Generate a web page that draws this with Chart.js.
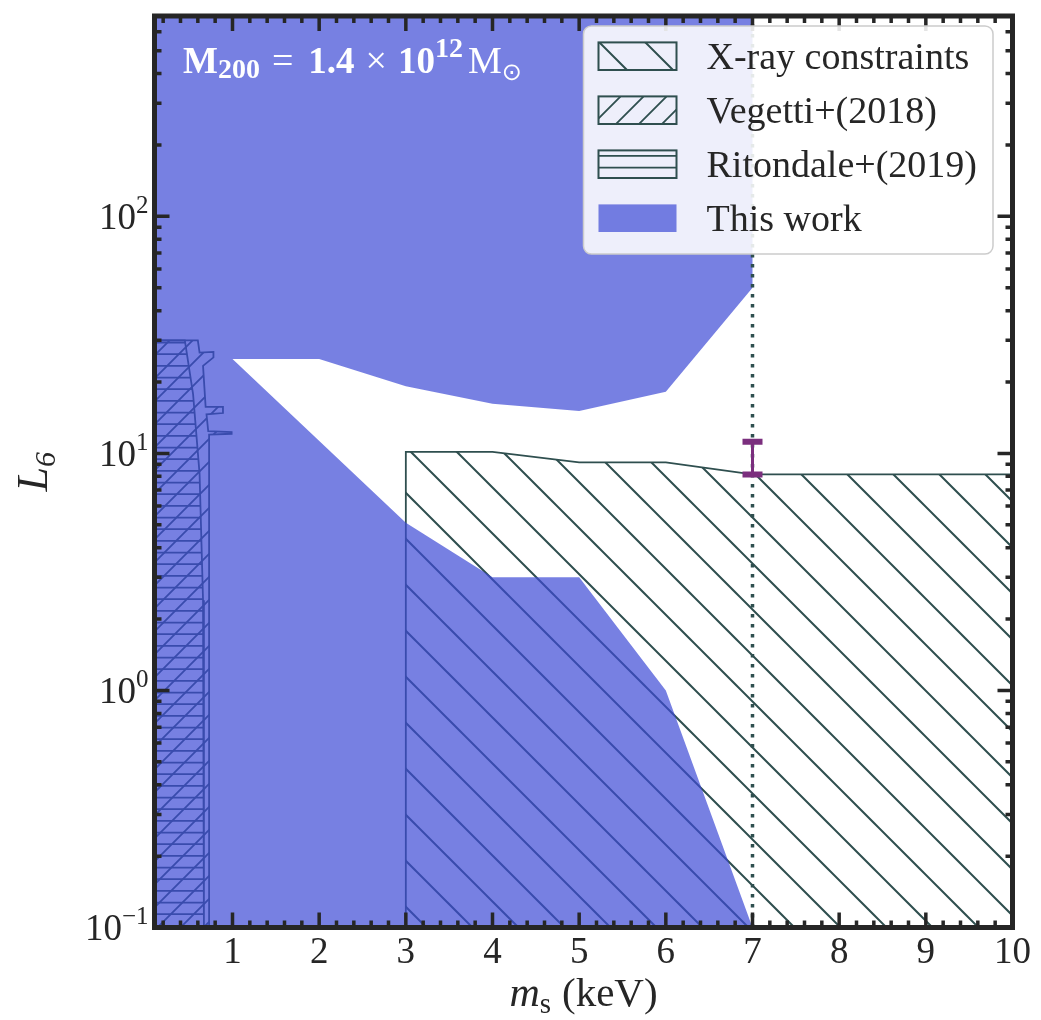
<!DOCTYPE html>
<html>
<head>
<meta charset="utf-8">
<script src="https://cdn.jsdelivr.net/npm/chart.js@4.4.1/dist/chart.umd.min.js"></script>
<style>
  html, body { margin: 0; padding: 0; background: #fff; }
  canvas { display: block; }
</style>
</head>
<body>
<canvas id="lim" width="1041" height="1020"></canvas>
<script>
const DSG = '#2f4f4f';
const INK = '#262626';
const PURPLE = '#7b2f7e';
const SERIF = '"Liberation Serif", "Times New Roman", serif';

// axis ticks
const massMajor = [1, 2, 3, 4, 5, 6, 7, 8, 9, 10];
const lumMajor = [0.1, 1, 10, 100];
const lumExp = ['\u22121', '0', '1', '2'];

// excluded by this work: outline in (m_s, L6)
const workMs = [0.1, 0.1, 7, 7, 6, 5, 4, 3, 2, 1, 3, 4, 5, 6, 7];
const workL6 = [0.1, 700, 700, 50, 18.2, 15.1, 16.2, 19.2, 25, 25, 5.1, 3, 3, 1, 0.1];

// X-ray bound
const xrayMs = [3, 3, 4, 5, 6, 7, 10, 10];
const xrayL6 = [0.1, 10.15, 10.15, 9.16, 9.16, 8.15, 8.15, 0.1];

// lensing bounds
const vegettiMs = [0.1, 0.1, 0.6, 0.62, 0.78, 0.78, 0.66, 0.69, 0.89, 0.89, 0.7, 0.72, 0.99, 0.99, 0.73, 0.73];
const vegettiL6 = [0.1, 30, 30, 26.6, 26.8, 25.4, 23.4, 15.7, 15.7, 14.8, 14.6, 12.4, 12.3, 12.1, 12.0, 0.1];
const ritondaleMs = [0.1, 0.1, 0.45, 0.545, 0.62, 0.66, 0.67];
const ritondaleL6 = [0.1, 30, 30, 17.8, 8.2, 2.4, 0.1];

// 3.5 keV line
const lineMs = [7];
const lineL6Lo = [8.15];
const lineL6Hi = [11.2];

const pts = (xs, ys) => xs.map((x, i) => ({x, y: ys[i]}));

function hatch(kind, size, phase, lw) {
  const c = document.createElement('canvas');
  c.width = size; c.height = size;
  const g = c.getContext('2d');
  g.strokeStyle = DSG;
  g.lineWidth = lw;
  g.beginPath();
  if (kind === 'horiz') {
    for (let j = 0; j < 3; j++) {
      const yy = (phase + j * size / 3) % size;
      g.moveTo(0, yy); g.lineTo(size, yy);
    }
  } else {
    for (let k = -1; k <= 1; k++) {
      const o = k * size + phase;
      if (kind === 'back') { g.moveTo(o - 3, -3); g.lineTo(o + size + 3, size + 3); }
      else { g.moveTo(o - 3, size + 3); g.lineTo(o + size + 3, -3); }
    }
  }
  g.stroke();
  return g.createPattern(c, 'repeat');
}

const xrayFill = hatch('back', 46, 5, 2);
const vegettiFill = hatch('fwd', 23, 4, 1.8);
const ritondaleFill = hatch('horiz', 35, 4.2, 1.8);
const workFill = 'rgba(61, 74, 214, 0.7)';

const region = (label, data, bg, edge, order) => ({
  label, data, order,
  backgroundColor: bg,
  borderColor: edge,
  borderWidth: edge ? 1.8 : 0,
  fill: 'shape',
  pointRadius: 0,
  tension: 0
});

function runWidth(ctx, parts) {
  let w = 0;
  for (const p of parts) { ctx.font = p.font; w += ctx.measureText(p.t).width + (p.gap || 0); }
  return w;
}
function drawRun(ctx, x, base, parts) {
  for (const p of parts) {
    ctx.font = p.font;
    ctx.fillText(p.t, x, base + (p.dy || 0));
    x += ctx.measureText(p.t).width + (p.gap || 0);
  }
}

const decor = {
  id: 'decor',
  afterDatasetsDraw(chart) {
    const {ctx, chartArea: a, scales: {x, y}} = chart;
    ctx.save();

    // inward ticks on all four sides
    ctx.strokeStyle = INK;
    ctx.lineWidth = 3.5;
    ctx.beginPath();
    for (let i = 1; i <= 50; i++) {
      const v = i * 0.2;
      if (v < x.min || v > x.max) continue;
      const len = i % 5 === 0 ? 15 : 7;
      const px = x.getPixelForValue(v);
      ctx.moveTo(px, a.bottom); ctx.lineTo(px, a.bottom - len);
      ctx.moveTo(px, a.top); ctx.lineTo(px, a.top + len);
    }
    for (let d = -1; d <= 2; d++) {
      for (let m = 1; m <= 9; m++) {
        const v = m * Math.pow(10, d);
        if (v > y.max * 1.0001) continue;
        const len = m === 1 ? 15 : 7;
        const py = y.getPixelForValue(v);
        ctx.moveTo(a.left, py); ctx.lineTo(a.left + len, py);
        ctx.moveTo(a.right, py); ctx.lineTo(a.right - len, py);
      }
    }
    ctx.stroke();

    ctx.lineWidth = 5;
    ctx.strokeRect(a.left, a.top, a.right - a.left, a.bottom - a.top);

    // tick labels
    ctx.fillStyle = INK;
    ctx.textBaseline = 'alphabetic';
    ctx.textAlign = 'center';
    ctx.font = '37px ' + SERIF;
    massMajor.forEach(v => ctx.fillText(String(v), x.getPixelForValue(v), a.bottom + 35));

    ctx.textAlign = 'left';
    lumMajor.forEach((v, i) => {
      const parts = [
        {t: '10', font: '37px ' + SERIF},
        {t: lumExp[i], font: '25px ' + SERIF, dy: -16}
      ];
      const w = runWidth(ctx, parts);
      drawRun(ctx, a.left - 6 - w, y.getPixelForValue(v) + 12.5, parts);
    });

    // axis titles
    const xt = [
      {t: 'm', font: 'italic 42px ' + SERIF},
      {t: 's', font: '29px ' + SERIF, dy: 7, gap: 11},
      {t: '(keV)', font: '41px ' + SERIF}
    ];
    drawRun(ctx, (a.left + a.right) / 2 - runWidth(ctx, xt) / 2, 1006, xt);

    const yt = [
      {t: 'L', font: 'italic 44px ' + SERIF},
      {t: '6', font: 'italic 30px ' + SERIF, dy: 8}
    ];
    ctx.save();
    ctx.translate(47, (a.top + a.bottom) / 2);
    ctx.rotate(-Math.PI / 2);
    drawRun(ctx, -runWidth(ctx, yt) / 2, 0, yt);
    ctx.restore();

    // halo mass note
    ctx.fillStyle = '#ffffff';
    const B = 'bold 37px ' + SERIF, b = 'bold 28px ' + SERIF, R = '38px ' + SERIF;
    drawRun(ctx, 183, 73, [
      {t: 'M', font: B},
      {t: '200', font: b, dy: 5, gap: 12},
      {t: '=', font: R, gap: 15},
      {t: '1.4', font: B, gap: 11},
      {t: '\u00d7', font: R, gap: 11},
      {t: '10', font: B},
      {t: '12', font: b, dy: -16, gap: 5},
      {t: 'M', font: R},
      {t: '\u2299', font: '24px "DejaVu Sans", sans-serif', dy: 7}
    ]);

    // legend
    const lx = 583.5, ly = 26, lw = 409.5, lh = 228;
    ctx.beginPath();
    ctx.roundRect(lx, ly, lw, lh, 8);
    ctx.fillStyle = 'rgba(255,255,255,0.88)';
    ctx.fill();
    ctx.strokeStyle = '#cccccc';
    ctx.lineWidth = 1.5;
    ctx.stroke();

    const items = chart.data.datasets.filter(ds => ds.label);
    items.forEach((ds, i) => {
      const cy = 56.2 + i * 54;
      ctx.fillStyle = ds.backgroundColor;
      ctx.fillRect(598.5, cy - 13.8, 78, 27.6);
      if (ds.borderWidth) {
        ctx.strokeStyle = ds.borderColor;
        ctx.lineWidth = 2;
        ctx.strokeRect(598.5, cy - 13.8, 78, 27.6);
      }
      ctx.fillStyle = INK;
      ctx.font = '38px ' + SERIF;
      ctx.fillText(ds.label, 706.5, cy + 13);
    });

    ctx.restore();
  }
};

new Chart(document.getElementById('lim'), {
  type: 'line',
  data: {
    datasets: [
      region('X-ray constraints', pts(xrayMs, xrayL6), xrayFill, DSG, 6),
      region('Vegetti+(2018)', pts(vegettiMs, vegettiL6), vegettiFill, DSG, 5),
      region('Ritondale+(2019)', pts(ritondaleMs, ritondaleL6), ritondaleFill, DSG, 4),
      region('This work', pts(workMs, workL6), workFill, null, 3),
      {
        data: [{x: lineMs[0], y: 0.1}, {x: lineMs[0], y: 700}],
        order: 2,
        borderColor: DSG,
        borderWidth: 3.5,
        borderDash: [3.5, 6.5],
        borderCapStyle: 'butt',
        pointRadius: 0,
        fill: false
      },
      {
        data: [{x: lineMs[0], y: lineL6Lo[0]}, {x: lineMs[0], y: lineL6Hi[0]}],
        order: 1,
        borderColor: PURPLE,
        borderWidth: 3,
        pointStyle: 'line',
        pointRadius: 10,
        pointBorderWidth: 6,
        pointBorderColor: PURPLE,
        fill: false
      }
    ]
  },
  options: {
    responsive: false,
    animation: false,
    events: [],
    layout: {padding: {top: 9, right: 28.5, left: 0, bottom: 0}},
    scales: {
      x: {
        type: 'linear', min: 0.1, max: 10,
        grid: {display: false}, border: {display: false}, ticks: {display: false},
        afterFit: s => { s.height = 92.5; }
      },
      y: {
        type: 'logarithmic', min: 0.1, max: 700,
        grid: {display: false}, border: {display: false}, ticks: {display: false},
        afterFit: s => { s.width = 154.5; }
      }
    },
    plugins: {legend: {display: false}, tooltip: {enabled: false}}
  },
  plugins: [decor]
});
</script>
</body>
</html>
